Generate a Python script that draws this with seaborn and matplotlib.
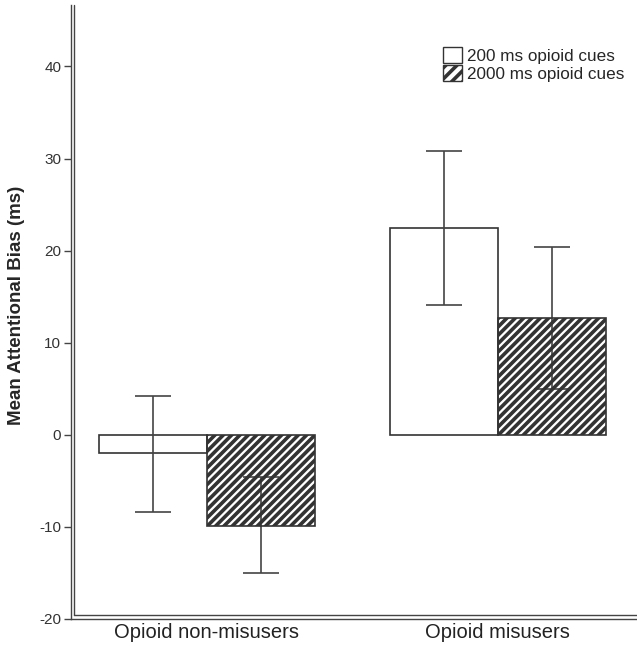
import pandas as pd
import numpy as np
import matplotlib
matplotlib.use("Agg")
import matplotlib.pyplot as plt
import seaborn as sns
from matplotlib.patches import Patch

groups = ["Opioid non-misusers", "Opioid misusers"]
conditions = ["200 ms opioid cues", "2000 ms opioid cues"]
means_200 = [-2.0, 22.5]
means_2000 = [-9.9, 12.7]
upper_200 = [4.2, 30.8]
lower_200 = [-8.4, 14.1]
upper_2000 = [-4.6, 20.4]
lower_2000 = [-15.0, 5.0]

sns.set_theme(style="white")
plt.rcParams['font.family'] = ['Liberation Sans', 'DejaVu Sans']
plt.rcParams['hatch.linewidth'] = 2.6
plt.rcParams['hatch.color'] = 'black'

df = pd.DataFrame({
    "group": groups * 2,
    "cond": [conditions[0]] * 2 + [conditions[1]] * 2,
    "mean": means_200 + means_2000,
})

fig = plt.figure(figsize=(6.37, 6.5), dpi=100)
ax = fig.add_axes([0.1115, 0.0477, 0.8885, 0.945])

sns.barplot(data=df, x="group", y="mean", hue="cond", order=groups,
            hue_order=conditions, width=0.742, errorbar=None,
            palette=["white", "white"], edgecolor="#333333", linewidth=1.2,
            legend=False, ax=ax)

# hatch the 2000 ms bars; transparent face so the error bar shows through the stripes
for bar in ax.containers[1]:
    bar.set_hatch("////")
    bar.set_facecolor("none")
    bar.set_zorder(5)
for bar in ax.containers[0]:
    bar.set_zorder(2)

# error bars (asymmetric, from the figure)
offs = 0.742 / 4
for m, lo, hi, d in [(means_200, lower_200, upper_200, -offs),
                     (means_2000, lower_2000, upper_2000, offs)]:
    x = np.arange(len(groups)) + d
    ax.errorbar(x, m, yerr=[np.array(m) - np.array(lo), np.array(hi) - np.array(m)],
                fmt="none", ecolor="#444444", elinewidth=1.2, capsize=13,
                capthick=1.2, zorder=3)

ax.set_xlim(-0.467, 1.478)
ax.set_ylim(-20, 46.7)
ax.set_yticks([-20, -10, 0, 10, 20, 30, 40])
ax.set_yticklabels(["-20", "-10", "0", "10", "20", "30", "40"], color="#333333", fontsize=11)
ax.tick_params(axis="y", direction="out", length=5, width=1, color="#444444", left=True, pad=2)
ax.tick_params(axis="x", length=0, labelsize=14.5, colors="#222222", pad=3)
ax.set_xlabel("")
ax.set_ylabel("Mean Attentional Bias (ms)", fontsize=13.5, fontweight="bold")
ax.yaxis.set_label_coords(-0.081, 0.51)

for s in ["top", "right"]:
    ax.spines[s].set_visible(False)
for s in ["left", "bottom"]:
    ax.spines[s].set_color("#444444")
    ax.spines[s].set_linewidth(1.0)
# double-line axis look
ax.plot([0.006, 0.006], [0.006, 1.0], transform=ax.transAxes, color="#444444",
        lw=1.0, clip_on=False)
ax.plot([0.006, 1.0], [0.006, 0.006], transform=ax.transAxes, color="#444444",
        lw=1.0, clip_on=False)

handles = [Patch(facecolor="white", edgecolor="#333333", label=conditions[0]),
           Patch(facecolor="white", edgecolor="#333333", hatch="///", label=conditions[1])]
ax.legend(handles=handles, loc="upper right", bbox_to_anchor=(0.995, 0.948),
          frameon=False, fontsize=12.3, handlelength=1.1, handleheight=1.1,
          handletextpad=0.25, labelspacing=0.05, borderaxespad=0.2)

fig.savefig("out.png", dpi=100)
